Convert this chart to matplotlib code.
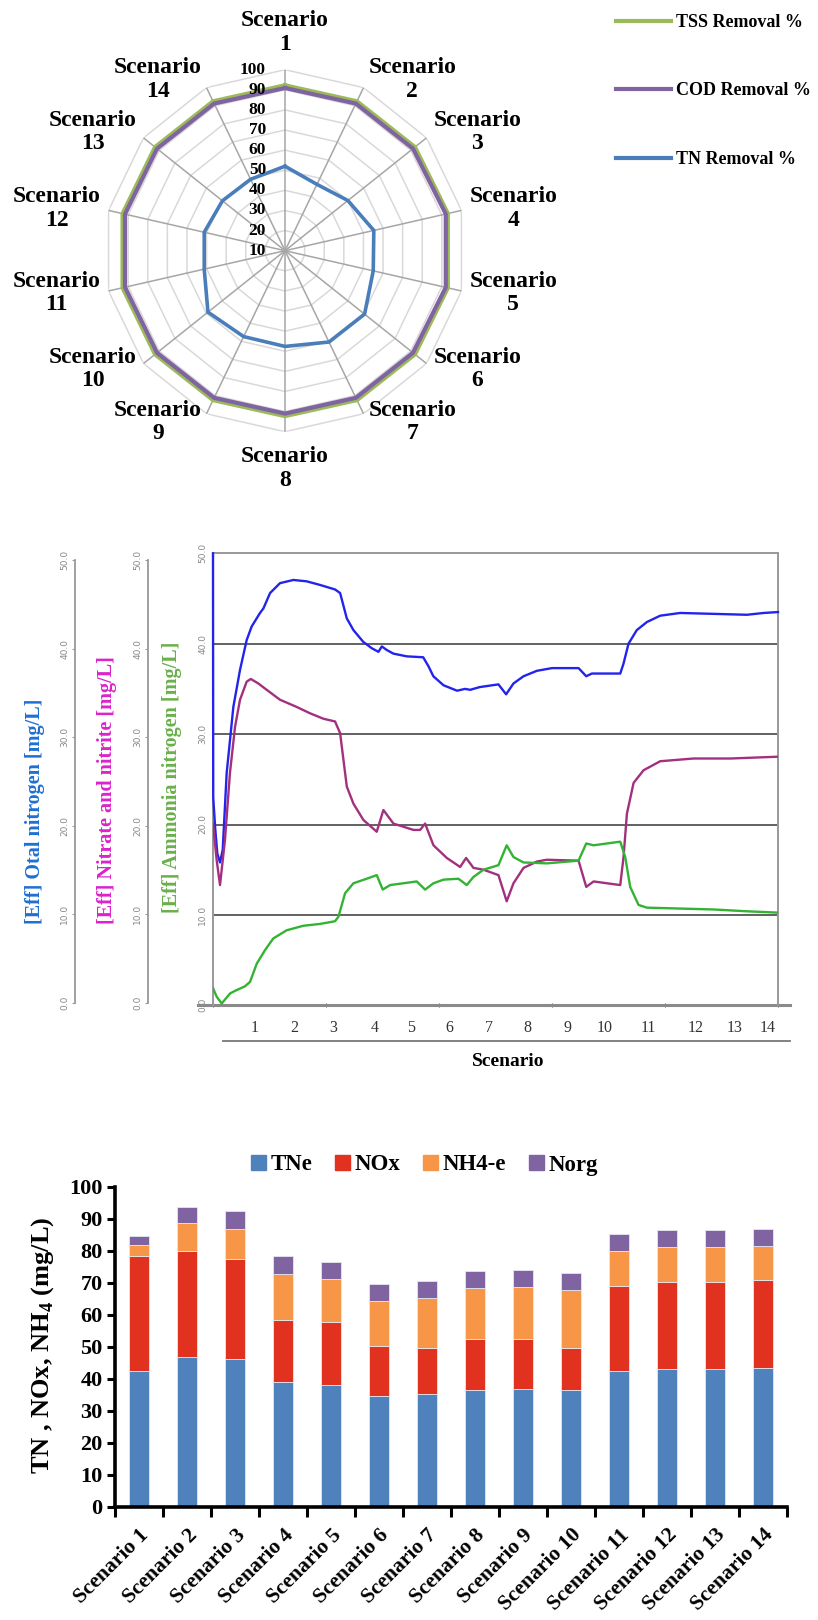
import numpy as np
import matplotlib
matplotlib.use("Agg")
import matplotlib.pyplot as plt
from matplotlib.lines import Line2D
from matplotlib.patches import Patch
import matplotlib.transforms as mtrans

plt.rcParams['font.family'] = ['Liberation Serif', 'DejaVu Serif']
plt.rcParams['mathtext.fontset'] = 'custom'
plt.rcParams['mathtext.rm'] = 'Liberation Serif'
plt.rcParams['mathtext.bf'] = 'Liberation Serif:bold'

# ---------------- data ----------------
scenarios = [f"Scenario {i}" for i in range(1, 15)]
radar_labels = [f"Scenario\n{i}" for i in range(1, 15)]
tss_removal = [92.4, 92.6, 92.8, 93.2, 93.2, 92.8, 92.6, 92.4, 92.6, 92.8, 93.0, 93.0, 92.8, 92.6]
cod_removal = [90.9, 91.2, 91.4, 92.0, 92.0, 91.4, 91.2, 91.0, 91.2, 91.4, 91.6, 91.6, 91.4, 91.2]
tn_removal = [52.0, 46.6, 50.0, 55.3, 55.0, 60.6, 60.4, 57.6, 57.4, 59.0, 51.2, 51.2, 49.8, 49.4]
radar_ticks = [10, 20, 30, 40, 50, 60, 70, 80, 90, 100]

tn_x = [0, 0.02, 0.2, 0.38, 0.62, 0.86, 1.21, 1.8, 2.39, 2.98, 3.42, 4.16, 4.46, 5.05, 5.93, 7.11,
        8.29, 9.47, 10.8, 11.25, 11.84, 12.43, 13.3, 14.05, 14.64, 14.94, 15.38, 15.97, 17.15, 18.6,
        19.07, 19.5, 20.4, 21.6, 22.3, 22.76, 23.6, 25.26, 25.94, 26.59, 27.48, 28.66, 30.0, 32.35,
        33.03, 33.53, 36.04, 36.33, 36.77, 37.5, 38.4, 39.58, 41.35, 44.3, 47.25, 48.73, 50.0]
tn_y = [50, 23, 19.5, 16.8, 15.8, 17.2, 25.7, 33.0, 37.1, 40.4, 41.9, 43.4, 43.9, 45.6, 46.7, 47.05,
        46.9, 46.5, 46.0, 45.6, 42.8, 41.5, 40.2, 39.5, 39.1, 39.7, 39.3, 38.9, 38.6, 38.5,
        37.5, 36.4, 35.4, 34.8, 35.0, 34.9, 35.2, 35.5, 34.4, 35.6, 36.4, 37.0, 37.3, 37.3,
        36.4, 36.7, 36.7, 37.8, 40.0, 41.5, 42.4, 43.1, 43.4, 43.3, 43.2, 43.4, 43.5]
nox_x = [0, 0.32, 0.62, 1.06, 1.5, 1.95, 2.39, 2.98, 3.34, 4.01, 4.75, 5.93, 7.41, 8.59, 9.77, 10.8,
         11.25, 11.84, 12.43, 13.31, 14.49, 15.08, 15.97, 17.74, 18.33, 18.77, 19.51, 20.69, 21.87,
         22.4, 23.05, 23.94, 25.26, 25.99, 26.59, 27.48, 28.66, 29.54, 32.35, 33.03, 33.68, 36.04,
         36.33, 36.63, 37.22, 38.1, 39.58, 42.53, 45.78, 50.0]
nox_y = [20.1, 16.1, 13.3, 18.3, 25.7, 30.8, 33.8, 35.8, 36.1, 35.6, 34.9, 33.8, 33.0, 32.3, 31.7, 31.4,
         30.1, 24.2, 22.3, 20.5, 19.2, 21.6, 20.1, 19.4, 19.4, 20.1, 17.7, 16.3, 15.3,
         16.3, 15.2, 15.0, 14.4, 11.5, 13.5, 15.2, 15.9, 16.1, 16.0, 13.1, 13.7, 13.3,
         16.4, 21.2, 24.6, 26.0, 27.0, 27.3, 27.3, 27.5]
nh4_x = [0, 0.32, 0.77, 1.5, 1.95, 2.83, 3.28, 3.87, 4.6, 5.34, 6.52, 8.0, 9.47, 10.8, 11.1, 11.69,
         12.43, 13.6, 14.49, 15.02, 15.67, 18.03, 18.77, 19.51, 20.4, 21.72, 22.46, 23.05, 23.94,
         25.26, 25.99, 26.59, 27.48, 29.54, 32.35, 33.03, 33.68, 36.04, 36.48, 36.92, 37.66, 38.4,
         41.35, 44.3, 47.25, 50.0]
nh4_y = [1.9, 0.96, 0.2, 1.3, 1.6, 2.1, 2.6, 4.6, 6.1, 7.4, 8.3, 8.8, 9.0, 9.3, 9.8, 12.4,
         13.5, 14.0, 14.4, 12.8, 13.3, 13.7, 12.8, 13.5, 13.9, 14.0, 13.3, 14.2, 15.0,
         15.5, 17.7, 16.4, 15.8, 15.7, 16.0, 17.9, 17.7, 18.1, 16.4, 13.1, 11.1, 10.8,
         10.7, 10.6, 10.4, 10.25]
sim_ticks = [0, 10, 20, 30, 40, 50]
sim_tick_labels = ["0.0", "10.0", "20.0", "30.0", "40.0", "50.0"]
scen_num_labels = [str(i) for i in range(1, 15)]
scen_num_pos = [3.72, 7.17, 10.63, 14.34, 17.53, 20.9, 24.44, 27.8, 31.34, 34.7, 38.5, 42.7, 46.2, 49.1]

tne = [42.4, 46.9, 46.1, 39.1, 38.2, 34.8, 35.2, 36.7, 36.9, 36.7, 42.5, 43.2, 43.0, 43.3]
nox = [35.9, 33.1, 31.4, 19.3, 19.5, 15.4, 14.6, 15.9, 15.7, 13.0, 26.6, 27.2, 27.4, 27.5]
nh4e = [3.5, 8.6, 9.3, 14.5, 13.7, 14.1, 15.5, 15.8, 16.15, 18.2, 10.8, 10.85, 10.7, 10.7]
norg = [2.9, 5.3, 5.6, 5.4, 5.3, 5.4, 5.4, 5.35, 5.35, 5.3, 5.4, 5.45, 5.4, 5.4]
bar_ticks = list(range(0, 101, 10))

# ---------------- figure ----------------
W, H = 818, 1620
fig = plt.figure(figsize=(W / 100, H / 100), dpi=100)

def fx(px):
    return px / W

def fy(py):
    return 1 - py / H

# ====== Radar chart ======
cx, cy, R = 285, 250.7, 181
axr = fig.add_axes([fx(cx - R), fy(cy + R), 2 * R / W, 2 * R / H], projection='polar')
axr.set_theta_zero_location('N')
axr.set_theta_direction(-1)
n = len(scenarios)
theta = np.arange(n) * 2 * np.pi / n
theta_c = np.append(theta, theta[0])
axr.set_ylim(10, 100)
axr.grid(False)
axr.spines['polar'].set_visible(False)
axr.set_xticks([])
axr.set_yticks([])
axr.patch.set_alpha(0)
for v in radar_ticks[1:]:
    axr.plot(theta_c, [v] * (n + 1), color='#d9d9d9', lw=1.1, zorder=1)
for t in theta:
    axr.plot([t, t], [10, 100], color='#a6a6a6', lw=1.1, zorder=1)

def closed(v):
    return list(v) + [v[0]]

axr.plot(theta_c, closed(tss_removal), color='#9bbb59', lw=2.6, zorder=3)
axr.plot(theta_c, closed(cod_removal), color='#8064a2', lw=3.0, zorder=4)
axr.plot(theta_c, closed(tn_removal), color='#4a7ebb', lw=2.6, zorder=4)

for v in radar_ticks:
    axr.annotate(str(v), xy=(0, v), xytext=(-19, 0), textcoords='offset pixels',
                 ha='right', va='center', fontsize=12.5, fontweight='bold', zorder=5)

for t, lab in zip(theta, radar_labels):
    ux, uy = np.sin(t), np.cos(t)
    sg = 0 if abs(ux) < 1e-6 else np.sign(ux)
    dx = ux * 6 + sg * 46
    dy = uy * 9 + (np.sign(uy) * 28 if sg == 0 else 0)
    axr.annotate(lab, xy=(t, 100), xytext=(dx, dy), textcoords='offset pixels',
                 ha='center', va='center', fontsize=17, fontweight='bold',
                 linespacing=1.15, multialignment='center', annotation_clip=False)

radar_handles = [Line2D([], [], color='#9bbb59', lw=3),
                 Line2D([], [], color='#8064a2', lw=3),
                 Line2D([], [], color='#4a7ebb', lw=3)]
fig.legend(radar_handles, ['TSS Removal %', 'COD Removal %', 'TN Removal %'],
           loc='upper left', bbox_to_anchor=(fx(616), fy(14)), frameon=False,
           prop={'family': 'Liberation Serif', 'weight': 'bold', 'size': 13},
           handlelength=3.05, handletextpad=0.25, labelspacing=2.85,
           borderpad=0, borderaxespad=0)

# ====== Simulation chart ======
top_px, bot_px, left_px, right_px = 553.3, 1005.3, 213, 778
axs = fig.add_axes([fx(left_px), fy(bot_px), (right_px - left_px) / W, (bot_px - top_px) / H])
axs.set_xlim(0, 50)
axs.set_ylim(0, 50)
for v in sim_ticks[1:-1]:
    axs.axhline(v, color='#555555', lw=1.3, zorder=1)
axs.plot(tn_x, tn_y, color='#2323ee', lw=1.7, zorder=3, clip_on=False)
axs.plot(nox_x, nox_y, color='#a3307e', lw=1.7, zorder=3)
axs.plot(nh4_x, nh4_y, color='#33b333', lw=1.7, zorder=3)
for s in ['top', 'right', 'left']:
    axs.spines[s].set_color('#999999')
    axs.spines[s].set_linewidth(1.4)
axs.spines['bottom'].set_visible(False)
axs.plot([-0.027, 1.022], [0, 0], transform=axs.transAxes, color='#8a8a8a', lw=2.2,
         clip_on=False, zorder=2)
axs.set_yticks(sim_ticks)
axs.set_yticklabels(sim_tick_labels, rotation=90, va='center', fontsize=6.5,
                    color='#888888', family='DejaVu Sans')
axs.tick_params(axis='y', length=0, pad=4)
axs.set_xticks(sim_ticks)
axs.set_xticklabels([])
axs.tick_params(axis='x', length=3, direction='inout', color='#666666')
tr = mtrans.blended_transform_factory(axs.transData, axs.transAxes)
for p, lab in zip(scen_num_pos, scen_num_labels):
    axs.text(p, -0.05, lab, transform=tr, ha='center', va='center', fontsize=11.5, color='#333333')
axs.plot([0.018, 1.021], [-0.079, -0.079], transform=axs.transAxes, color='#777777', lw=1.3,
         clip_on=False)
axs.text((508 - left_px) / (right_px - left_px), -0.125, 'Scenario', transform=axs.transAxes,
         ha='center', va='center', fontsize=14, fontweight='bold')

for xpx in (75, 148):
    axe = fig.add_axes([fx(xpx), fy(1003), 0.0005, (1003 - 560) / H])
    axe.set_ylim(0, 50)
    axe.patch.set_alpha(0)
    for s in ['top', 'right', 'bottom']:
        axe.spines[s].set_visible(False)
    axe.spines['left'].set_color('#999999')
    axe.spines['left'].set_linewidth(1.3)
    axe.set_xticks([])
    axe.set_yticks(sim_ticks)
    axe.set_yticklabels(sim_tick_labels, rotation=90, va='center', fontsize=6.5,
                        color='#888888', family='DejaVu Sans')
    axe.tick_params(axis='y', length=2, color='#999999', pad=2)

fig.text(fx(35), fy(811), '[Eff] Otal nitrogen [mg/L]', rotation=90, ha='center', va='center',
         fontsize=14.5, fontweight='bold', color='#1f6fd4')
fig.text(fx(107), fy(790), '[Eff] Nitrate and nitrite [mg/L]', rotation=90, ha='center',
         va='center', fontsize=14.5, fontweight='bold', color='#dd22cc')
fig.text(fx(172), fy(777), '[Eff] Ammonia nitrogen [mg/L]', rotation=90, ha='center',
         va='center', fontsize=14.5, fontweight='bold', color='#6ab04c')

# ====== Stacked bar chart ======
axb = fig.add_axes([fx(115), fy(1507), (787 - 115) / W, (1507 - 1187) / H])
xb = np.arange(len(scenarios))
colors = ['#4f81bd', '#e0321f', '#f79646', '#8064a2']
names = ['TNe', 'NOx', 'NH4-e', 'Norg']
bottom = np.zeros(len(scenarios))
for vals, c, nm in zip([tne, nox, nh4e, norg], colors, names):
    axb.bar(xb, vals, width=0.4, bottom=bottom, color=c, edgecolor='#e6e6f0', linewidth=0.6,
            label=nm, zorder=2)
    bottom = bottom + np.array(vals)
axb.set_xlim(-0.5, len(scenarios) - 0.5)
axb.set_ylim(0, 100)
axb.set_yticks(bar_ticks)
axb.set_yticklabels([str(v) for v in bar_ticks], fontsize=16, fontweight='bold')
axb.set_xticks(xb)
axb.set_xticklabels(scenarios, rotation=45, ha='right', va='top', rotation_mode='anchor',
                    fontsize=15.5, fontweight='bold')
axb.set_xticks(np.arange(-0.5, len(scenarios)), minor=True)
axb.tick_params(axis='x', which='major', length=0, pad=13)
axb.tick_params(axis='x', which='minor', length=7, width=2.2, direction='out')
axb.tick_params(axis='y', length=6, width=2.2, direction='out', pad=3)
for s in ['top', 'right']:
    axb.spines[s].set_visible(False)
for s in ['left', 'bottom']:
    axb.spines[s].set_linewidth(2.6)
fig.text(fx(43), fy(1345), r'TN , NOx, NH$_\mathbf{4}$ (mg/L)', rotation=90, ha='center',
         va='center', fontsize=19, fontweight='bold')
fig.legend([Patch(color=c) for c in colors], names, loc='center',
           bbox_to_anchor=(fx(424.5), fy(1165)), ncol=4, frameon=False,
           prop={'family': 'Liberation Serif', 'weight': 'bold', 'size': 16.5},
           handlelength=0.65, handleheight=0.65, handletextpad=0.2, columnspacing=1.0,
           borderpad=0, borderaxespad=0)

fig.savefig('out.png', dpi=100)
